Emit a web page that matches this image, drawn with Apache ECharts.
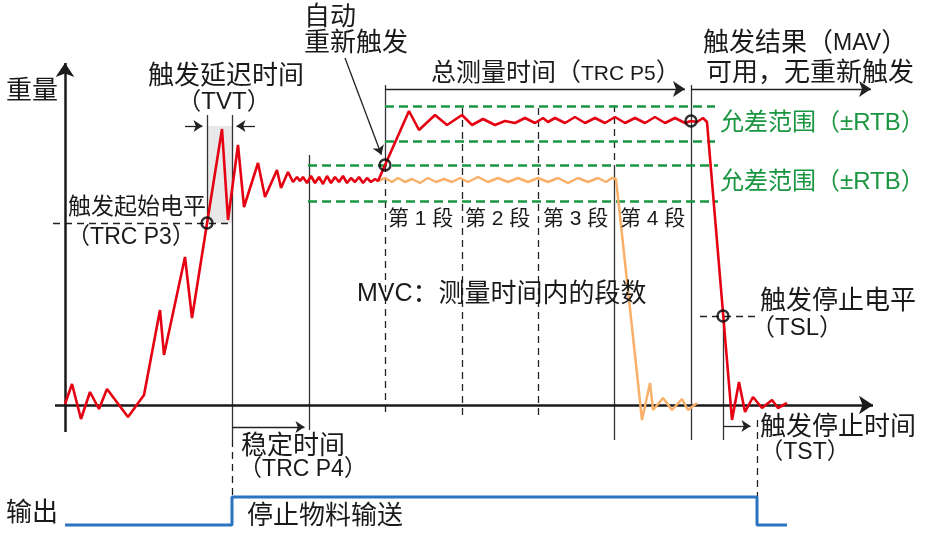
<!DOCTYPE html>
<html>
<head>
<meta charset="utf-8">
<script src="https://cdn.jsdelivr.net/npm/echarts@6.0.0/dist/echarts.min.js"></script>
<style>
html,body{margin:0;padding:0;background:#ffffff;}
#chart{width:929px;height:533px;}
</style>
</head>
<body>
<div id="chart"></div>
<script>
// ---------------- Data (time t / weight w in diagram units) ----------------
// Weight signal that settles, is re-triggered and finally removed (red)
const weightSignal = [
  [0,1],[7,21],[16,-14],[25,13],[34,-4],[42,16],[63,-12],[79,10],[95,95],[99,50],
  [120,148],[127,87],[157,276],[163,185],[173,260],[179,198],[193,242],[200,208],
  [212,235],[216,217],[223,233],[228,223],[232,228],[235,224],
  [238,228],[242,222],[246,229],[250,222],[254,228],[258,221],[262,229],[266,222],
  [270,228],[274,223],[278,229],[282,222],[286,227],[290,223],[294,228],[298,222],
  [302,227],[306,223],[310,226],[313,224],
  [344,294],[354,275],[370,290],[382,280],[397,290],[407,280],[418,286],[430,280],
  [440,284],[450,282],[460,287],[470,282],[478,287],[483,283],[490,287],
  [500,282],[510,288],[520,282],[530,287],[540,282],[550,288],[560,282],[570,287],
  [580,282],[590,288],[600,282],[610,287],[620,282],[626,284],[632,283],[638,287],[642,283],
  [667,-15],[674,23],[680,-7],[688,8],[697,-3],[707,5],[713,-3],[722,2]
];
// Weight signal without re-trigger (orange)
const plainSignal = [
  [313,224],[320,227],[327,223],[333,227],[340,223],[347,226],[355,222],[363,227],
  [371,223],[379,226],[387,223],[395,227],[403,223],[413,228],[423,223],[433,227],
  [443,223],[453,227],[463,223],[473,227],[483,223],[493,227],[503,222],[513,227],
  [523,223],[533,227],[541,223],[547,227],[551,226],
  [577,-15],[585,22],[588,-5],[598,7],[607,-5],[617,6],[623,-5],[632,2]
];
// Output "stop material feed"
const outputTime  = [0, 167, 167, 692, 692, 722];
const outputLevel = [0, 0, 1, 1, 0, 0];
// Trigger points (circles)
const triggerMarkers = [[142,182],[320,240],[626,284],[658,89]];
// Event times: trigger, TVT end, settled, re-trigger, seg1 end, seg2 end, seg3 end, MAV, stop, output off
const eventTimes = [142, 167, 244, 320, 397, 473, 549, 626, 658, 692];
// Levels: trigger start level (TRC P3), trigger stop level (TSL)
const levels = [182, 89];
// Tolerance bands (±RTB)
const bandMAV = [264, 299];
const bandAlt = [204, 240];
const segmentNames = ['1', '2', '3', '4'];

// ---------------- Build ----------------
const [T_TRIG, T_TVT, T_SET, T_RETRIG, T_S1, T_S2, T_S3, T_MAV, T_STOP, T_OFF] = eventTimes;
const [W_TRIG, W_TSL] = levels;
const FONT = '"Liberation Sans","Noto Sans CJK SC",sans-serif';
const INK = '#1a1a1a';
const GREEN = '#1a9641';

function seg(a, b) {
  return [{coord: a, symbol: 'none'}, {coord: b, symbol: 'none'}];
}
// arrow whose tip lands on `tip` (1 unit = 1 px on both axes)
function arrow(from, tip, size) {
  const dx = tip[0] - from[0], dy = tip[1] - from[1];
  const len = Math.sqrt(dx * dx + dy * dy);
  const end = [tip[0] - dx / len * size / 2, tip[1] - dy / len * size / 2];
  return [{coord: from, symbol: 'none'}, {coord: end, symbol: 'arrow', symbolSize: size}];
}
function markLineSeries(data, lineStyle, z) {
  return {
    type: 'line', data: [], xAxisIndex: 0, yAxisIndex: 0, z: z || 3,
    markLine: {
      silent: true, z: z || 3, animation: false,
      symbol: ['none', 'none'],
      label: {show: false},
      emphasis: {disabled: true},
      lineStyle: lineStyle,
      data: data
    }
  };
}
function txt(text, t, w, size, opt) {
  opt = opt || {};
  const color = opt.color || INK;
  return {
    coord: [t, w], value: 0, symbolSize: 1,
    itemStyle: {color: 'rgba(0,0,0,0)'},
    label: {
      show: true, position: 'inside', formatter: text,
      align: opt.align || 'left', verticalAlign: 'middle',
      fontSize: size, fontFamily: FONT, color: color,
      rich: {l: {fontSize: opt.latin || size - 3, fontFamily: FONT, color: color}}
    }
  };
}

const solidLines = [
  seg([T_TRIG, W_TRIG], [T_TRIG, 290]),
  seg([T_TVT, 290], [T_TVT, -35]),
  seg([T_SET, 250], [T_SET, -25]),
  seg([T_RETRIG, 320], [T_RETRIG, bandAlt[1]]),
  seg([T_S3, bandAlt[1]], [T_S3, -35]),
  seg([T_MAV, 320], [T_MAV, -35]),
  seg([T_STOP, W_TSL], [T_STOP, -35])
];
const dashedLines = [
  seg([T_RETRIG, bandAlt[1]], [T_RETRIG, -12]),
  seg([T_S1, 297], [T_S1, -12]),
  seg([T_S2, 297], [T_S2, -12]),
  seg([T_S3, 300], [T_S3, bandAlt[1]]),
  seg([T_TVT, -35], [T_TVT, -92]),
  seg([T_OFF, -15], [T_OFF, -92]),
  seg([-12, W_TRIG], [T_TVT, W_TRIG]),
  seg([635, W_TSL], [T_OFF, W_TSL])
];
const greenLines = [
  seg([T_RETRIG, bandMAV[1]], [650, bandMAV[1]]),
  seg([T_RETRIG, bandMAV[0]], [650, bandMAV[0]]),
  seg([T_SET - 1, bandAlt[1]], [653, bandAlt[1]]),
  seg([T_SET - 1, bandAlt[0]], [653, bandAlt[0]])
];
const arrows = [
  arrow([120, 279], [T_TRIG, 279], 9),
  arrow([190, 279], [T_TVT, 279], 9),
  arrow([280, 347], [318, 246], 9),
  arrow([T_RETRIG, 316], [T_MAV, 316], 12),
  arrow([T_MAV, 316], [812, 316], 12),
  arrow([T_TVT, -22], [T_SET, -22], 9),
  arrow([T_STOP, -21], [T_OFF - 2, -21], 9)
];
const axesLines = [
  arrow([-10, 0], [815, 0], 14),
  arrow([0, -27], [0, 349], 14)
];

const labels = [
  txt('重量', -59, 313, 26),
  txt('触发延迟时间', 83, 328, 26),
  txt('（TVT）', 159, 302, 24, {align: 'center'}),
  txt('触发起始电平', 3, 197, 23),
  txt('（TRC P3）', 66, 167, 23, {align: 'center'}),
  txt('自动', 239, 387, 26),
  txt('重新触发', 239, 361, 26),
  txt('总测量时间（{l|TRC P5}）', 366, 330, 25, {latin: 21}),
  txt('触发结果（{l|MAV}）', 638, 361, 26, {latin: 23}),
  txt('可用，无重新触发', 641, 331, 26),
  txt('允差范围（{l|±RTB}）', 655, 281, 24, {color: GREEN, latin: 24}),
  txt('允差范围（{l|±RTB}）', 655, 222, 24, {color: GREEN, latin: 24}),
  txt('第{l| ' + segmentNames[0] + ' }段', T_RETRIG + 3, 185, 21, {latin: 21}),
  txt('第{l| ' + segmentNames[1] + ' }段', T_S1 + 3, 185, 21, {latin: 21}),
  txt('第{l| ' + segmentNames[2] + ' }段', T_S2 + 5, 185, 21, {latin: 21}),
  txt('第{l| ' + segmentNames[3] + ' }段', T_S3 + 6, 185, 21, {latin: 21}),
  txt('{l|MVC}：测量时间内的段数', 292, 110, 26, {latin: 25}),
  txt('触发停止电平', 695, 103, 26),
  txt('（TSL）', 732, 76, 24, {align: 'center'}),
  txt('稳定时间', 176, -42, 26),
  txt('（TRC P4）', 238, -65, 23, {align: 'center'}),
  txt('触发停止时间', 695, -23, 26),
  txt('（TST）', 740, -48, 23, {align: 'center'}),
  txt('输出', -59, -109, 26),
  txt('停止物料输送', 182, -112, 26)
];

const option = {
  animation: false,
  grid: [
    {left: 0, right: 0, top: 0, bottom: 0},
    {left: 0, right: 0, top: 497, height: 28}
  ],
  xAxis: [
    {gridIndex: 0, type: 'value', min: -65, max: 864, show: false},
    {gridIndex: 1, type: 'value', min: -65, max: 864, show: false}
  ],
  yAxis: [
    {gridIndex: 0, type: 'value', min: -128, max: 405, show: false},
    {gridIndex: 1, type: 'value', min: 0, max: 1, show: false}
  ],
  series: [
    {
      type: 'line', data: [], z: 1,
      markArea: {
        silent: true, z: 1,
        itemStyle: {color: '#e8e8e8'},
        data: [[{coord: [T_TRIG, W_TRIG]}, {coord: [T_TVT, 279]}]]
      }
    },
    markLineSeries(solidLines, {color: '#333333', width: 1.3, type: 'solid'}, 3),
    markLineSeries(dashedLines, {color: '#222222', width: 1.3, type: [7, 5]}, 3),
    markLineSeries(greenLines, {color: GREEN, width: 2.6, type: [9, 5]}, 3),
    markLineSeries(arrows, {color: '#222222', width: 1.3, type: 'solid'}, 4),
    markLineSeries(axesLines, {color: '#1a1a1a', width: 2.5, type: 'solid'}, 4),
    {
      type: 'line', xAxisIndex: 0, yAxisIndex: 0, z: 6,
      data: plainSignal, symbol: 'none', clip: false,
      lineStyle: {color: '#f8b06a', width: 2.5}
    },
    {
      type: 'line', xAxisIndex: 0, yAxisIndex: 0, z: 7,
      data: weightSignal, symbol: 'none', clip: false,
      lineStyle: {color: '#e50012', width: 2.6}
    },
    {
      type: 'scatter', xAxisIndex: 0, yAxisIndex: 0, z: 8,
      data: triggerMarkers, symbol: 'circle', symbolSize: 11,
      itemStyle: {color: 'rgba(0,0,0,0)', borderColor: '#000000', borderWidth: 2.4},
      silent: true
    },
    {
      type: 'line', data: [], z: 9,
      markPoint: {silent: true, z: 9, animation: false, data: labels}
    },
    {
      type: 'line', xAxisIndex: 1, yAxisIndex: 1, z: 6,
      data: outputTime.map((t, i) => [t, outputLevel[i]]),
      symbol: 'none', clip: false,
      lineStyle: {color: '#2a73bf', width: 3}
    }
  ]
};
const chart = echarts.init(document.getElementById('chart'));
chart.setOption(option);
</script>
</body>
</html>
